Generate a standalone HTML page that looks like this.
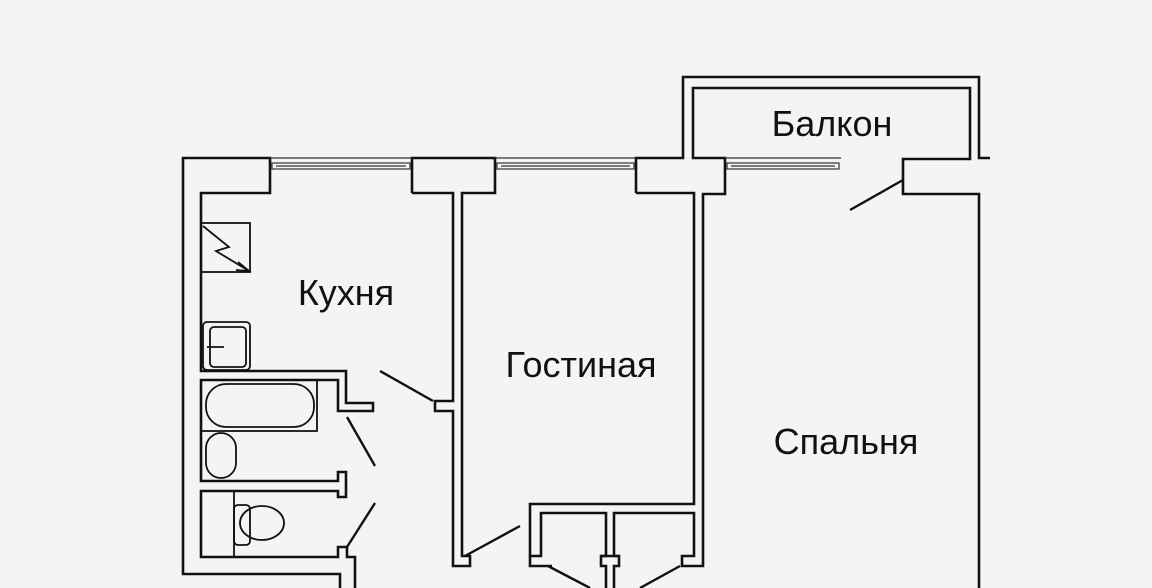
<!DOCTYPE html>
<html><head><meta charset="utf-8"><style>
html,body{margin:0;padding:0;background:#f4f4f4;}
svg{display:block}
text{font-family:"Liberation Sans",sans-serif;fill:#111}
</style></head><body>
<svg width="1152" height="588" viewBox="0 0 1152 588" xmlns="http://www.w3.org/2000/svg">
<rect width="1152" height="588" fill="#f4f4f4"/>
<g fill="none" stroke="#111" stroke-width="2.6" stroke-linejoin="miter">
<polyline points="340,588 340,574 183,574 183,158 270,158 270,193 201,193 201,371 346,371 346,403 373,403 373,411 338,411 338,380 201,380 201,481 338,481 338,472 346,472 346,497 338,497 338,491 201,491 201,557 338,557 338,547 347,547 347,557 355,557 355,588"/>
<polyline points="412,193 412,158 495,158 495,193 462,193 462,556 470,556 470,566 453,566 453,411 435,411 435,401 453,401 453,193 412,193"/>
<polyline points="636,193 636,158 683,158 683,77 979,77 979,158 990,158"/>
<polyline points="636,193 694,193 694,504 530,504 530,556 541,556 541,513 606,513 606,556 601,556 601,566 606,566 606,588"/>
<polyline points="530,556 530,566 552,566"/>
<polyline points="614,588 614,566 619,566 619,556 614,556 614,513 694,513 694,556 682,556 682,566 703,566 703,194 725,194 725,158 693,158 693,88 970,88 970,159 903,159 903,194 979,194 979,588"/>
<line x1="601" y1="556" x2="619" y2="556"/>
</g>
<g fill="none" stroke="#333" stroke-width="1.2">
<line x1="270" y1="158" x2="412" y2="158"/>
<rect x="272" y="163" width="138" height="6"/>
<line x1="276" y1="166" x2="406" y2="166"/>
<line x1="495" y1="158" x2="636" y2="158"/>
<rect x="497" y="163" width="137" height="6"/>
<line x1="501" y1="166" x2="630" y2="166"/>
<line x1="725" y1="158" x2="841" y2="158"/>
<rect x="727" y="163" width="112" height="6"/>
<line x1="731" y1="166" x2="835" y2="166"/>
</g>
<g stroke="#111" stroke-width="2.4">
<line x1="903" y1="180" x2="850" y2="210"/>
<line x1="380" y1="371" x2="433" y2="401"/>
<line x1="347" y1="417" x2="375" y2="466"/>
<line x1="347" y1="547" x2="375" y2="503"/>
<line x1="465" y1="556" x2="520" y2="526"/>
<line x1="548" y1="566" x2="590" y2="588"/>
<line x1="680" y1="566" x2="640" y2="588"/>
</g>
<g fill="none" stroke="#111" stroke-width="1.8">
<rect x="201" y="223" width="49" height="49"/>
<polyline points="203,226 229,247 216,251 249,271"/>
<polyline points="238,262 249,271 236,270"/>
<rect x="203" y="322" width="47" height="48" rx="4"/>
<rect x="210" y="327" width="36" height="40" rx="4"/>
<line x1="207" y1="347" x2="224" y2="347"/>
<rect x="201" y="380" width="116" height="51"/>
<rect x="206" y="384" width="108" height="43" rx="20"/>
<rect x="206" y="433" width="30" height="45" rx="15"/>
<rect x="201" y="491" width="33" height="66"/>
<rect x="234" y="505" width="16" height="40" rx="4"/>
<ellipse cx="262" cy="523" rx="22" ry="17"/>
</g>
<text x="346" y="305" font-size="36" text-anchor="middle">Кухня</text>
<text x="581" y="377" font-size="36" text-anchor="middle">Гостиная</text>
<text x="846" y="454" font-size="36" text-anchor="middle">Спальня</text>
<text x="832" y="136" font-size="36" text-anchor="middle">Балкон</text>
</svg>
</body></html>
